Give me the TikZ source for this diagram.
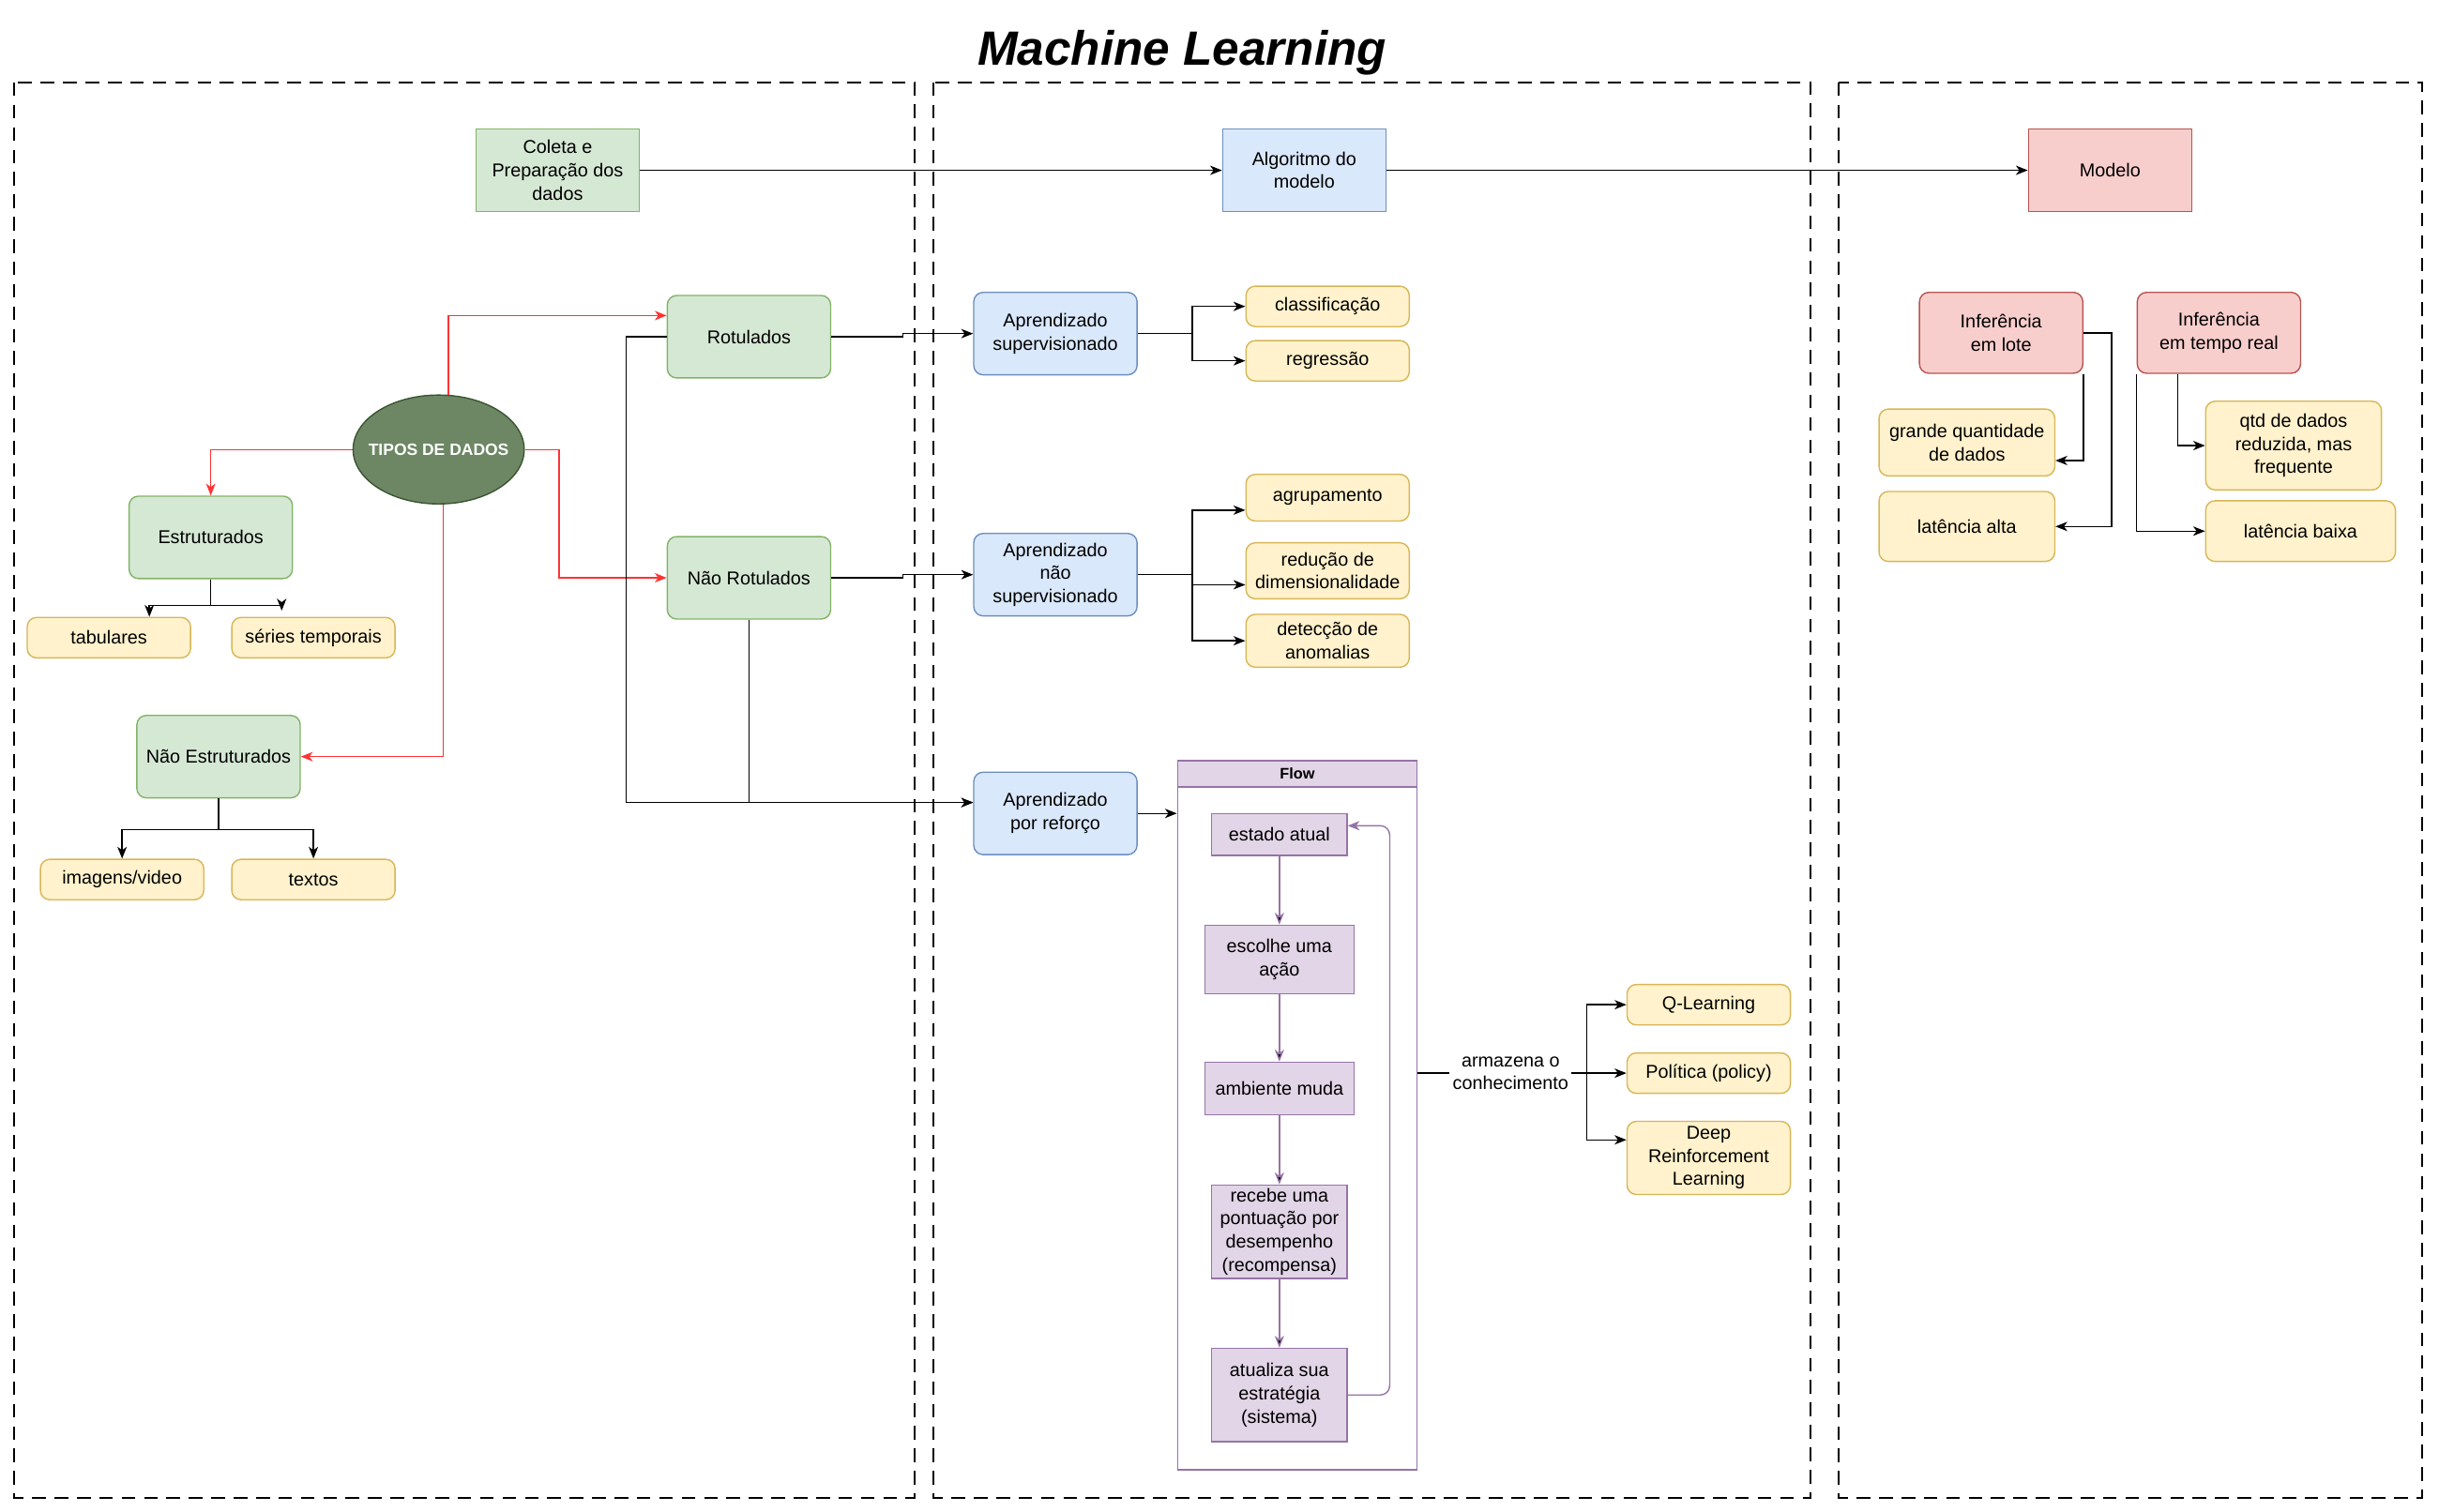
\documentclass[tikz,border=0pt]{standalone}
\usepackage{fontspec}
\setmainfont{Liberation Sans}
\usepackage{tikz}
\usetikzlibrary{arrows.meta}
\usetikzlibrary{positioning}
\usetikzlibrary{shapes,fit}

\definecolor{ioGreen}{HTML}{D5E8D4}
\definecolor{ioGreenLine}{HTML}{82B366}
\definecolor{ioBlue}{HTML}{DAE8FC}
\definecolor{ioBlueLine}{HTML}{6C8EBF}
\definecolor{ioRed}{HTML}{F8CECC}
\definecolor{ioRedLine}{HTML}{B85450}
\definecolor{ioYellow}{HTML}{FFF2CC}
\definecolor{ioYellowLine}{HTML}{D6B656}
\definecolor{ioPurple}{HTML}{E1D5E7}
\definecolor{ioPurpleLine}{HTML}{9673A6}
\definecolor{ioOlive}{HTML}{6D8764}
\definecolor{ioOliveLine}{HTML}{3A5431}
\definecolor{ioArrowRed}{HTML}{FF3333}

\newcommand{\mlfont}{\fontsize{8.5}{10.6}\selectfont}

\tikzset{
    greenbox/.style={
           rectangle,
           draw=ioGreenLine, fill=ioGreen,
           minimum width=26.25mm,
           minimum height=13.25mm,
           inner sep=0.5mm,
           align=center,
           font=\mlfont,
           },
    greenround/.style={greenbox, rounded corners=1.5mm},
    bluebox/.style={greenbox, draw=ioBlueLine, fill=ioBlue},
    blueround/.style={bluebox, rounded corners=1.5mm},
    redbox/.style={greenbox, draw=ioRedLine, fill=ioRed},
    redround/.style={redbox, rounded corners=1.5mm},
    leaf/.style={
           greenbox,
           draw=ioYellowLine, fill=ioYellow,
           rounded corners=1.5mm,
           minimum height=6.5mm,
           },
    stepbox/.style={
           rectangle,
           draw=ioPurpleLine, fill=ioPurple,
           inner sep=0.3mm,
           align=center,
           font=\mlfont,
           },
    panel/.style={-, draw=black, line width=0.8pt, dash pattern=on 2.2mm off 1.4mm},
    redline/.style={->, draw=ioArrowRed},
    purpleline/.style={->, draw=ioPurpleLine},
}

\begin{document}
\begin{tikzpicture}
[
->,>={Stealth[length=1.9mm,width=1.5mm,inset=0.55mm]},
x=0.25mm, y=-0.25mm,
line width=0.6pt
]

 \useasboundingbox (0,0) rectangle (1568,972);

 % TITLE
 \node[font=\fontsize{22}{26}\selectfont\bfseries\itshape] (TITLE) at (760,34) {Machine Learning};

 % PANELS
 \draw[panel] (9,53) rectangle (588,963);
 \draw[panel] (600,53) rectangle (1164,963);
 \draw[panel] (1182,53) rectangle (1557,963);

 % PIPELINE
 \node[greenbox] (COLETA) at (358.5,109.5) {Coleta e\\Preparação dos\\dados};
 \node[bluebox,
 right of=COLETA,
 node distance=120mm] (ALGO) {Algoritmo do\\modelo};
 \node[redbox,
 right of=ALGO,
 node distance=129.5mm] (MODELO) {Modelo};

 % TIPOS DE DADOS
 \node[ellipse,
 draw=ioOliveLine, fill=ioOlive,
 minimum width=27.5mm, minimum height=17.5mm,
 inner xsep=-1.6mm, inner ysep=0pt, text=white,
 font=\fontsize{7.5}{9}\selectfont\bfseries] (TIPOS) at (282,289) {TIPOS DE DADOS};

 \node[greenround] (ROT) at (481.5,216.5) {Rotulados};
 \node[greenround,
 below of=ROT,
 node distance=38.75mm] (NROT) {Não Rotulados};
 \node[greenround] (EST) at (135.5,345.5) {Estruturados};
 \node[greenround] (NEST) at (140.5,486.5) {Não Estruturados};

 \node[leaf] (TAB) at (70,410) {tabulares};
 \node[leaf,
 right of=TAB,
 node distance=32.875mm] (SER) {séries temporais};
 \node[leaf] (IMG) at (78.5,565.5) {imagens/video};
 \node[leaf] (TXT) at (201.5,565.5) {textos};

 % APRENDIZADO
 \node[blueround] (SUP) at (678.5,214.5) {Aprendizado\\supervisionado};
 \node[blueround] (NSUP) at (678.5,369.5) {Aprendizado\\não\\supervisionado};
 \node[blueround] (REF) at (678.5,523) {Aprendizado\\por reforço};

 \node[leaf] (CLA) at (853.5,197) {classificação};
 \node[leaf,
 below of=CLA,
 node distance=8.75mm] (REG) {regressão};
 \node[leaf, minimum height=7.5mm] (AGR) at (853.5,320) {agrupamento};
 \node[leaf, minimum height=9mm] (RED) at (853.5,367) {redução de\\dimensionalidade};
 \node[leaf, minimum height=8.5mm] (DET) at (853.5,412) {detecção de\\anomalias};

 % FLOW
 \node[draw=ioPurpleLine, fill=white,
 minimum width=38.5mm, minimum height=114mm,
 inner sep=0pt] (FLOW) at (834,717) {};
 \node[anchor=north,
 draw=ioPurpleLine, fill=ioPurple,
 minimum width=38.5mm, minimum height=4.25mm,
 inner sep=0pt,
 font=\fontsize{7}{8}\selectfont\bfseries] (FLOWHEAD) at (FLOW.north) {Flow};

 \node[stepbox, minimum width=21.75mm, minimum height=6.75mm] (ESTADO) at (822.5,536.5) {estado atual};
 \node[stepbox, minimum width=24mm, minimum height=11mm,
 below of=ESTADO,
 node distance=20.1mm] (ESCOLHE) {escolhe uma\\ação};
 \node[stepbox, minimum width=24mm, minimum height=8.5mm,
 below of=ESCOLHE,
 node distance=20.75mm] (AMBIENTE) {ambiente muda};
 \node[stepbox, minimum width=21.75mm, minimum height=15mm,
 below of=AMBIENTE,
 node distance=23mm] (RECEBE) {recebe uma\\pontuação por\\desempenho\\(recompensa)};
 \node[stepbox, minimum width=21.75mm, minimum height=15mm,
 below of=RECEBE,
 node distance=26.25mm] (ATUALIZA) {atualiza sua\\estratégia\\(sistema)};

 \node[leaf] (QL) at (1098.5,646) {Q-Learning};
 \node[leaf] (POL) at (1098.5,690) {Política (policy)};
 \node[leaf, minimum height=11.75mm] (DEEP) at (1098.5,744.5) {Deep\\Reinforcement\\Learning};
 \coordinate (HUB) at (1020,690);

 % MODELO
 \node[redround, minimum height=13mm] (LOTE) at (1286.5,214) {Inferência\\em lote};
 \node[redround, minimum height=13mm,
 right of=LOTE,
 node distance=35mm] (REAL) {Inferência\\em tempo real};
 \node[leaf, minimum width=28.25mm, minimum height=10.75mm] (GRANDE) at (1264.5,284.5) {grande quantidade\\de dados};
 \node[leaf, minimum width=28.25mm, minimum height=11.25mm] (ALTA) at (1264.5,338.5) {latência alta};
 \node[leaf, minimum width=28.25mm, minimum height=14.25mm] (QTD) at (1474.5,286.5) {qtd de dados\\reduzida, mas\\frequente};
 \node[leaf, minimum width=30.5mm, minimum height=9.75mm] (BAIXA) at (1479,341.5) {latência baixa};

 % red paths out of the ellipse
 \draw[redline] (TIPOS.80) |- ([yshift=3.4mm]ROT.west);
 \draw[redline] (TIPOS.west) -| (EST.north);
 \draw[redline] (TIPOS.east) -- ++(22,0) |- (NROT.west);
 \draw[redline] (TIPOS.275) |- (NEST.east);

 % draw the paths
 \path
  (COLETA) edge (ALGO)
  (ALGO) edge (MODELO)
 ;
 \draw (EST.south) -- ++(0,17) -| ([xshift=6.5mm]TAB.north);
 \draw (EST.south) -- ++(0,17) -| ([xshift=-5.1mm,yshift=1mm]SER.north);
 \draw (NEST.south) -- ++(0,20) -| (IMG.north);
 \draw (NEST.south) -- ++(0,20) -| (TXT.north);

 \draw (ROT.east) -- ++(46,0) |- (SUP.west);
 \draw (NROT.east) -- ++(46,0) |- (NSUP.west);
 \draw (ROT.west) -- ++(-26,0) |- ([yshift=1.75mm]REF.west);
 \draw (NROT.south) |- ([yshift=1.75mm]REF.west);

 \draw (SUP.east) -- ++(35,0) |- (CLA.west);
 \draw (SUP.east) -- ++(35,0) |- (REG.west);
 \draw (NSUP.east) -- ++(35,0) |- ([yshift=-2mm]AGR.west);
 \draw (NSUP.east) -- ++(35,0) |- ([yshift=-2.25mm]RED.west);
 \draw (NSUP.east) -- ++(35,0) |- (DET.west);
 \draw (REF.east) -- (REF.east -| FLOW.west);

 % loop of the flow
 \path[purpleline]
  (ESTADO) edge (ESCOLHE)
  (ESCOLHE) edge (AMBIENTE)
  (AMBIENTE) edge (RECEBE)
  (RECEBE) edge (ATUALIZA)
 ;
 \draw[purpleline, rounded corners=1.5mm] (ATUALIZA.east) -- ++(27,0) |- ([yshift=1.4mm]ESTADO.east);

 \draw[-] (FLOW.east |- POL.west) -- node[pos=0.55, fill=white, inner sep=0.5mm, align=center, font=\mlfont] {armazena o\\conhecimento} (HUB);
 \draw (HUB) |- (QL.west);
 \draw (HUB) -- (POL.west);
 \draw (HUB) |- ([yshift=2.9mm]DEEP.west);

 % inference
 \draw (LOTE.east) -- ++(18,0) |- (ALTA.east);
 \draw (LOTE.south east) |- ([yshift=-2.9mm]GRANDE.east);
 \draw ([xshift=-6.6mm]REAL.south) |- (QTD.west);
 \draw (REAL.south west) |- (BAIXA.west);

\end{tikzpicture}
\end{document}
